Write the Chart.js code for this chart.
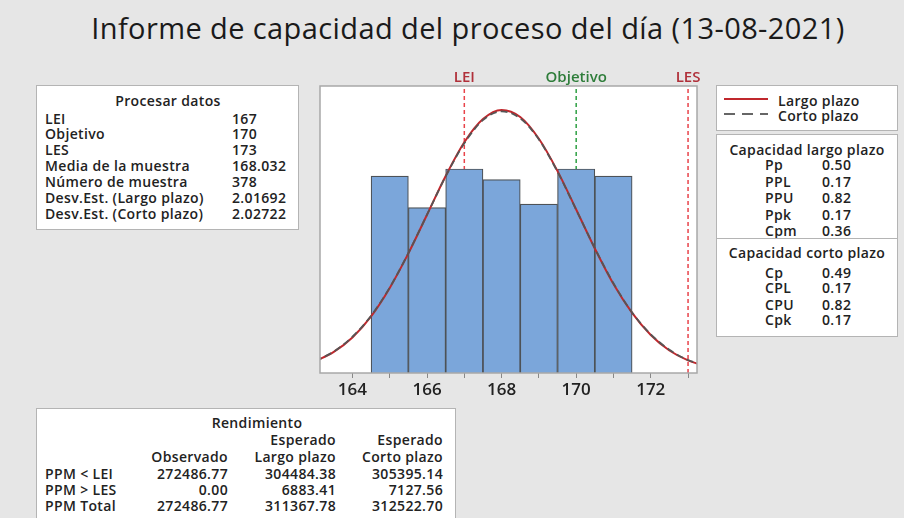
<!DOCTYPE html>
<html>
<head>
<meta charset="utf-8">
<script src="https://cdn.jsdelivr.net/npm/chart.js@4/dist/chart.umd.min.js"></script>
<style>
  body { margin: 0; width: 904px; height: 518px; background: #e6e6e6; position: relative; overflow: hidden;
         font-family: "Open Sans", sans-serif; color: #222; }
  .title { position: absolute; left: 0; width: 936px; top: 8px; text-align: center; font-size: 29px;
           letter-spacing: 0.4px; color: #1a1a1a; }
  .box { position: absolute; background: #fff; border: 1px solid #b4b4b4; }
  .t { position: absolute; font-size: 14px; letter-spacing: 0.35px; font-weight: 600; white-space: nowrap; line-height: 16px; }
  .c { transform: translateX(-50%); }
  .r { transform: translateX(-100%); }
  #wrap { position: absolute; left: 300px; top: 56px; width: 420px; height: 350px; }
</style>
</head>
<body>
<div class="title">Informe de capacidad del proceso del día (13-08-2021)</div>

<div class="box" style="left:36px;top:85px;width:261px;height:143px;">
  <div class="t c" style="left:131px;top:7px;">Procesar datos</div>
  <div class="t" style="left:8px;top:25px;">LEI</div><div class="t" style="left:195px;top:25px;">167</div>
  <div class="t" style="left:8px;top:40px;">Objetivo</div><div class="t" style="left:195px;top:40px;">170</div>
  <div class="t" style="left:8px;top:56px;">LES</div><div class="t" style="left:195px;top:56px;">173</div>
  <div class="t" style="left:8px;top:72px;">Media de la muestra</div><div class="t" style="left:195px;top:72px;">168.032</div>
  <div class="t" style="left:8px;top:88px;">Número de muestra</div><div class="t" style="left:195px;top:88px;">378</div>
  <div class="t" style="left:8px;top:104px;">Desv.Est. (Largo plazo)</div><div class="t" style="left:195px;top:104px;">2.01692</div>
  <div class="t" style="left:8px;top:120px;">Desv.Est. (Corto plazo)</div><div class="t" style="left:195px;top:120px;">2.02722</div>
</div>

<div class="box" style="left:716px;top:85px;width:180px;height:44px;">
  <div style="position:absolute;left:7px;top:12px;width:44px;height:2px;background:#c0282d;"></div>
  <div style="position:absolute;left:7px;top:27px;width:44px;height:2px;
       background:repeating-linear-gradient(to right,#666 0 11px,transparent 11px 18px);"></div>
  <div class="t" style="left:61px;top:7px;">Largo plazo</div>
  <div class="t" style="left:61px;top:22px;">Corto plazo</div>
</div>

<div class="box" style="left:716px;top:134px;width:180px;height:201px;">
  <div class="t c" style="left:90px;top:7px;">Capacidad largo plazo</div>
  <div class="t" style="left:48px;top:22px;">Pp</div><div class="t" style="left:105px;top:22px;">0.50</div>
  <div class="t" style="left:48px;top:39px;">PPL</div><div class="t" style="left:105px;top:39px;">0.17</div>
  <div class="t" style="left:48px;top:55px;">PPU</div><div class="t" style="left:105px;top:55px;">0.82</div>
  <div class="t" style="left:48px;top:72px;">Ppk</div><div class="t" style="left:105px;top:72px;">0.17</div>
  <div class="t" style="left:48px;top:88px;">Cpm</div><div class="t" style="left:105px;top:88px;">0.36</div>
  <div style="position:absolute;left:0;top:103px;width:180px;height:1px;background:#b4b4b4;"></div>
  <div class="t c" style="left:90px;top:110px;">Capacidad corto plazo</div>
  <div class="t" style="left:48px;top:130px;">Cp</div><div class="t" style="left:105px;top:130px;">0.49</div>
  <div class="t" style="left:48px;top:145px;">CPL</div><div class="t" style="left:105px;top:145px;">0.17</div>
  <div class="t" style="left:48px;top:162px;">CPU</div><div class="t" style="left:105px;top:162px;">0.82</div>
  <div class="t" style="left:48px;top:177px;">Cpk</div><div class="t" style="left:105px;top:177px;">0.17</div>
</div>

<div class="box" style="left:36px;top:408px;width:418px;height:120px;">
  <div class="t c" style="left:220px;top:6px;">Rendimiento</div>
  <div class="t r" style="left:299px;top:23px;">Esperado</div>
  <div class="t r" style="left:406px;top:23px;">Esperado</div>
  <div class="t r" style="left:191px;top:40px;">Observado</div>
  <div class="t r" style="left:299px;top:40px;">Largo plazo</div>
  <div class="t r" style="left:406px;top:40px;">Corto plazo</div>
  <div class="t" style="left:8px;top:57px;">PPM &lt; LEI</div>
  <div class="t r" style="left:191px;top:57px;">272486.77</div>
  <div class="t r" style="left:299px;top:57px;">304484.38</div>
  <div class="t r" style="left:406px;top:57px;">305395.14</div>
  <div class="t" style="left:8px;top:73px;">PPM &gt; LES</div>
  <div class="t r" style="left:191px;top:73px;">0.00</div>
  <div class="t r" style="left:299px;top:73px;">6883.41</div>
  <div class="t r" style="left:406px;top:73px;">7127.56</div>
  <div class="t" style="left:8px;top:89px;">PPM Total</div>
  <div class="t r" style="left:191px;top:89px;">272486.77</div>
  <div class="t r" style="left:299px;top:89px;">311367.78</div>
  <div class="t r" style="left:406px;top:89px;">312522.70</div>
</div>

<div id="wrap"><canvas id="capChart"></canvas></div>

<script>
// histogram bins (centre of each class) and counts
const binCenters = [165, 166, 167, 168, 169, 170, 171];
const binCounts = [56, 47, 58, 55, 48, 58, 56];

// fitted normal curves (scaled to counts), read along x
const curveX = [163, 163.5, 164, 164.5, 165, 165.5, 166, 166.5, 167, 167.5, 168, 168.5,
	169, 169.5, 170, 170.5, 171, 171.5, 172, 172.5, 173, 173.5];
const curveLargo = [3.3, 6.0, 10.1, 16.1, 24.2, 34.0, 45.0, 56.0, 65.6, 72.2, 74.8, 72.8,
	66.6, 57.4, 46.5, 35.4, 25.3, 17.1, 10.8, 6.4, 3.6, 1.9];
const curveCorto = [3.4, 6.1, 10.3, 16.3, 24.3, 34.1, 45.0, 55.9, 65.3, 71.9, 74.4, 72.4,
	66.4, 57.2, 46.4, 35.5, 25.5, 17.2, 11.0, 6.6, 3.7, 2.0];

// spec limits
const specNames = ['LEI', 'Objetivo', 'LES'];
const specValues = [167, 170, 173];
const specLineColors = ['#e8434a', '#2ea043', '#e8434a'];
const specLabelColors = ['#b0303a', '#2e7d3a', '#b0303a'];

const tickValues = [164, 165, 166, 167, 168, 169, 170, 171, 172, 173];
const xMin = 163.13, xMax = 173.24, yMax = 81.6;

const toPoints = (xs, ys) => xs.map((x, i) => ({ x: x, y: ys[i] }));

const specDatasets = specValues.map((v, i) => ({
	type: 'line',
	data: [{ x: v, y: 0 }, { x: v, y: yMax }],
	borderColor: specLineColors[i],
	borderWidth: 1.5,
	borderDash: [4, 3],
	pointRadius: 0
}));

const frame = {
	id: 'frame',
	beforeDraw(chart) {
		const { ctx, chartArea: a } = chart;
		ctx.save();
		ctx.fillStyle = '#ffffff';
		ctx.fillRect(a.left, a.top, a.right - a.left, a.bottom - a.top);
		ctx.restore();
	},
	afterDraw(chart) {
		const { ctx, chartArea: a } = chart;
		const x = chart.scales.x;
		ctx.save();
		ctx.strokeStyle = '#a8a8a8';
		ctx.lineWidth = 1.5;
		ctx.strokeRect(a.left, a.top, a.right - a.left, a.bottom - a.top);
		ctx.font = '600 15px "Open Sans"';
		ctx.textAlign = 'center';
		ctx.textBaseline = 'middle';
		specValues.forEach((v, i) => {
			ctx.fillStyle = specLabelColors[i];
			ctx.fillText(specNames[i], x.getPixelForValue(v), a.top - 8);
		});
		ctx.restore();
	}
};

new Chart(document.getElementById('capChart').getContext('2d'), {
	type: 'bar',
	data: {
		datasets: [{
			type: 'line',
			label: 'Corto plazo',
			data: toPoints(curveX, curveCorto),
			borderColor: '#555555',
			borderWidth: 1.8,
			borderDash: [7, 4],
			pointRadius: 0,
			cubicInterpolationMode: 'monotone'
		}, {
			type: 'line',
			label: 'Largo plazo',
			data: toPoints(curveX, curveLargo),
			borderColor: '#c0282d',
			borderWidth: 2,
			pointRadius: 0,
			cubicInterpolationMode: 'monotone'
		}, {
			type: 'bar',
			data: toPoints(binCenters, binCounts),
			backgroundColor: '#7ba6da',
			borderColor: '#4d5257',
			borderWidth: 1.2,
			barPercentage: 1,
			categoryPercentage: 1
		}, ...specDatasets]
	},
	options: {
		responsive: true,
		maintainAspectRatio: false,
		animation: false,
		layout: {
			padding: { left: 20, right: 23, top: 30, bottom: 0 }
		},
		scales: {
			x: {
				type: 'linear',
				min: xMin,
				max: xMax,
				offset: false,
				afterBuildTicks: (s) => { s.ticks = tickValues.map(v => ({ value: v })); },
				afterFit: (s) => { s.height = 33; },
				grid: {
					offset: false,
					drawOnChartArea: false,
					tickLength: 5,
					color: '#888888'
				},
				border: { display: false },
				ticks: {
					autoSkip: false,
					maxRotation: 0,
					padding: 2,
					color: '#222222',
					font: { family: 'Open Sans', size: 17, weight: '600' },
					callback: (v) => (v % 2 === 0 ? String(v) : '')
				}
			},
			y: {
				display: false,
				min: 0,
				max: yMax
			}
		},
		plugins: {
			legend: { display: false },
			tooltip: { enabled: false }
		}
	},
	plugins: [frame]
});
</script>
</body>
</html>
